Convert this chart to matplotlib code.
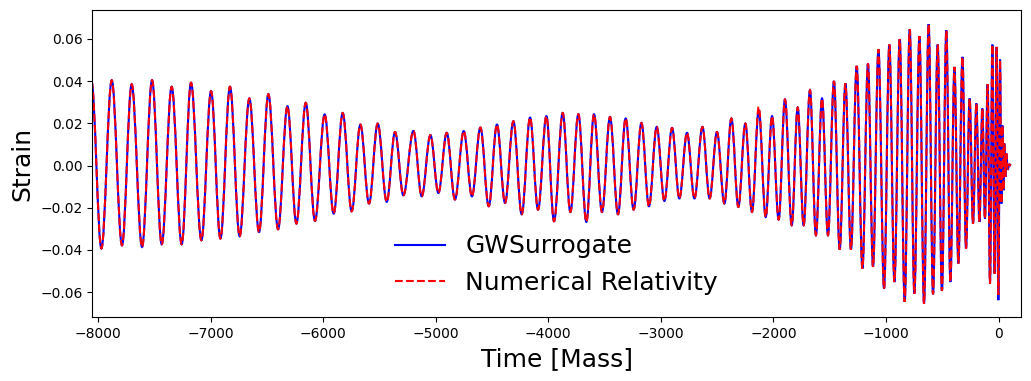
import numpy as np
import matplotlib.pyplot as plt
from matplotlib.path import Path
from matplotlib.patches import PathPatch
from matplotlib.lines import Line2D

# extrema of the waveform (time [M], strain)
times = [-8058, -7969, -7877, -7786, -7700, -7608, -7519, -7433,
         -7345, -7256, -7173, -7081, -6995, -6912, -6827, -6741,
         -6655, -6569, -6486, -6400, -6317, -6237, -6154, -6072,
         -5986, -5906, -5826, -5746, -5669, -5592, -5515, -5435,
         -5361, -5287, -5198, -5124, -5047, -4976, -4902, -4829,
         -4751, -4678, -4603, -4529, -4456, -4384, -4310, -4236,
         -4162, -4091, -4017, -3949, -3872, -3804, -3733, -3662,
         -3594, -3523, -3452, -3381, -3313, -3242, -3173, -3106,
         -3037, -2969, -2901, -2836, -2768, -2702, -2631, -2567,
         -2502, -2436, -2374, -2312, -2250, -2191, -2131, -2069,
         -2013, -1954, -1898, -1838, -1785, -1732, -1676, -1623,
         -1569, -1516, -1463, -1412, -1361, -1312, -1261, -1210,
         -1161, -1116, -1068, -1018, -971, -926, -879, -835,
         -790, -749, -704, -663, -622, -583, -542, -504,
         -465, -429, -393, -358, -322, -290, -258, -228,
         -198, -171, -145, -122, -98, -77, -56, -36,
         -18, -3, 12, 24, 33, 42, 50, 59,
         68, 80, 95, 110]

surrogate = [0.0400, -0.0393, 0.0404, -0.0378, 0.0385, -0.0386, 0.0404, -0.0373,
             0.0373, -0.0373, 0.0392, -0.0354, 0.0352, -0.0346, 0.0373, -0.0335,
             0.0318, -0.0315, 0.0338, -0.0302, 0.0281, -0.0275, 0.0297, -0.0262,
             0.0242, -0.0228, 0.0249, -0.0217, 0.0194, -0.0180, 0.0199, -0.0172,
             0.0159, -0.0141, 0.0164, -0.0146, 0.0144, -0.0130, 0.0155, -0.0161,
             0.0163, -0.0146, 0.0180, -0.0193, 0.0194, -0.0177, 0.0210, -0.0231,
             0.0227, -0.0209, 0.0234, -0.0264, 0.0249, -0.0220, 0.0243, -0.0267,
             0.0243, -0.0220, 0.0230, -0.0231, 0.0223, -0.0209, 0.0202, -0.0193,
             0.0183, -0.0168, 0.0178, -0.0156, 0.0155, -0.0156, 0.0183, -0.0156,
             0.0159, -0.0180, 0.0223, -0.0196, 0.0199, -0.0220, 0.0262, -0.0244,
             0.0234, -0.0256, 0.0313, -0.0283, 0.0275, -0.0283, 0.0357, -0.0330,
             0.0318, -0.0330, 0.0400, -0.0398, 0.0389, -0.0398, 0.0472, -0.0488,
             0.0483, -0.0480, 0.0550, -0.0583, 0.0573, -0.0552, 0.0599, -0.0646,
             0.0645, -0.0607, 0.0613, -0.0654, 0.0670, -0.0610, 0.0573, -0.0594,
             0.0641, -0.0552, 0.0467, -0.0464, 0.0515, -0.0393, 0.0318, -0.0275,
             0.0294, -0.0267, 0.0270, -0.0251, 0.0385, -0.0552, 0.0573, -0.0512,
             0.0562, -0.0638, 0.0502, -0.0180, 0.0190, -0.0117, 0.0104, -0.0054,
             0.0057, -0.0020, 0.0005, 0.0000]

# where the NR curve visibly differs from the surrogate
nr_changes = {-2131: 0.0278, -3: -0.0612, -77: -0.0560}
numerical = [nr_changes.get(t, s) for t, s in zip(times, surrogate)]


def wave_path(t, y, k=0.3634):
    # smooth curve through the extrema (flat tangent at each one)
    verts = [(t[0], y[0])]
    codes = [Path.MOVETO]
    for i in range(len(t) - 1):
        dt = t[i + 1] - t[i]
        verts += [(t[i] + k * dt, y[i]), (t[i + 1] - k * dt, y[i + 1]), (t[i + 1], y[i + 1])]
        codes += [Path.CURVE4] * 3
    return Path(verts, codes)


fig, ax = plt.subplots(figsize=(10.31, 3.81), dpi=100)
fig.subplots_adjust(left=0.0895, right=0.9905, top=0.9738, bottom=0.1667)

ax.add_patch(PathPatch(wave_path(times, surrogate), facecolor='none', edgecolor='b', lw=1.5))
ax.add_patch(PathPatch(wave_path(times, numerical), facecolor='none', edgecolor='r', lw=1.5, ls='--'))

ax.set_xlim(-8050, 200)
ax.set_ylim(-0.0720, 0.0737)
ax.set_xlabel('Time [Mass]', fontsize=18)
ax.set_ylabel('Strain', fontsize=18)

handles = [Line2D([], [], color='b', lw=1.5), Line2D([], [], color='r', lw=1.5, ls='--')]
ax.legend(handles, ['GWSurrogate', 'Numerical Relativity'], loc='lower center',
          frameon=False, fontsize=18)

fig.savefig('out.png', dpi=100)
